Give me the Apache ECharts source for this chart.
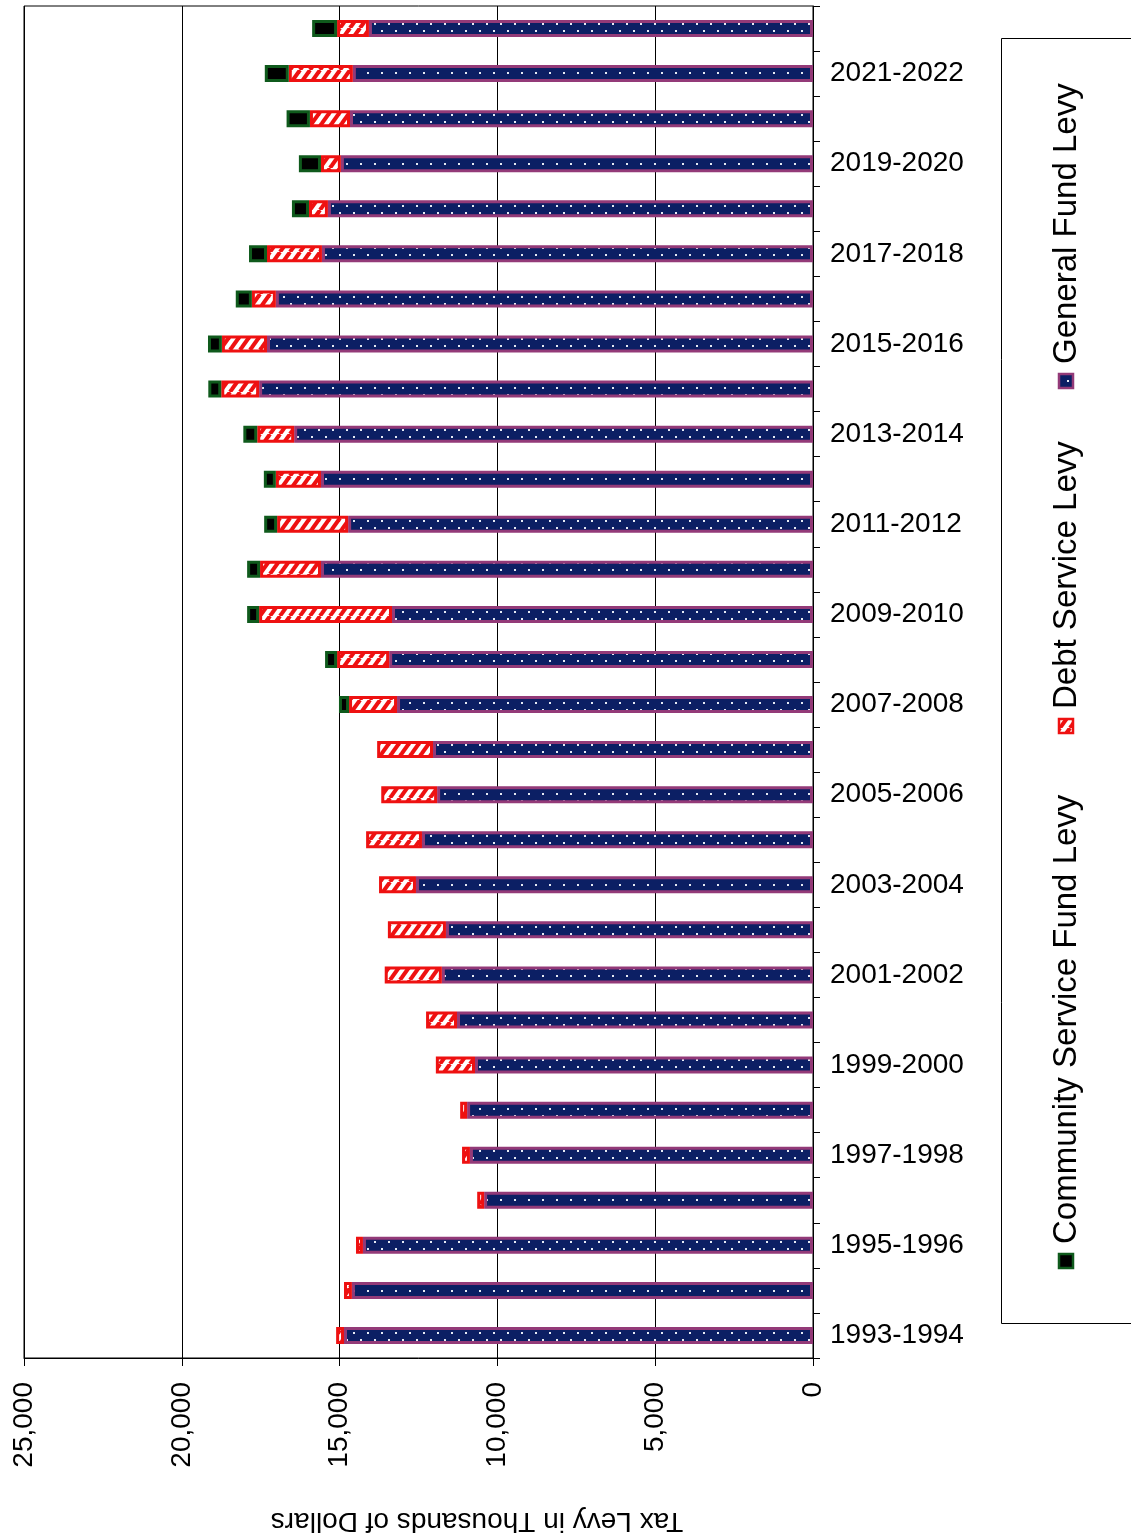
<!DOCTYPE html>
<html>
<head>
<meta charset="utf-8">
<script src="https://cdn.jsdelivr.net/npm/echarts@6/dist/echarts.min.js"></script>
<style>
  html, body { margin: 0; padding: 0; background: #fff; }
  #chart { width: 1131px; height: 1539px; }
</style>
</head>
<body>
<div id="chart"></div>
<script>
// Fiscal years, oldest first (drawn bottom to top)
const years = [
  '1993-1994', '1994-1995', '1995-1996', '1996-1997', '1997-1998', '1998-1999',
  '1999-2000', '2000-2001', '2001-2002', '2002-2003', '2003-2004', '2004-2005',
  '2005-2006', '2006-2007', '2007-2008', '2008-2009', '2009-2010', '2010-2011',
  '2011-2012', '2012-2013', '2013-2014', '2014-2015', '2015-2016', '2016-2017',
  '2017-2018', '2018-2019', '2019-2020', '2020-2021', '2021-2022', '2022-2023'
];

// Levy amounts, thousands of dollars
const generalFund = [
  14860, 14610, 14260, 10420, 10870, 10960,
  10710, 11280, 11760, 11630, 12580, 12390,
  11910, 12040, 13180, 13430, 13340, 15590,
  14730, 15590, 16440, 17550, 17300, 17020,
  15560, 15370, 14960, 14670, 14580, 14070
];
const debtService = [
  250, 250, 220, 220, 250, 220,
  1240, 980, 1810, 1840, 1170, 1770,
  1770, 1770, 1520, 1650, 4210, 1930,
  2250, 1430, 1170, 1200, 1430, 760,
  1740, 600, 630, 1270, 2030, 1010
];
// Community service levy begins in 2007-2008
const communityService = [
  null, null, null, null, null, null,
  null, null, null, null, null, null,
  null, null, 320, 380, 380, 410,
  410, 380, 440, 410, 440, 510,
  570, 540, 700, 740, 760, 790
];

const seriesNames = ['General Fund Levy', 'Debt Service Levy', 'Community Service Fund Levy'];
const axisMax = 25000;
const axisStep = 5000;

const FONT = '"Liberation Sans", Arial, sans-serif';
const NAVY = '#0c1f64';
const PURPLE = '#933a78';
const RED = '#ee1111';
const GREEN = '#0f5a1c';

// navy fill sprinkled with small white dots in staggered rows
function dotTile() {
  const c = document.createElement('canvas');
  c.width = 14; c.height = 14;
  const g = c.getContext('2d');
  g.fillStyle = NAVY;
  g.fillRect(0, 0, 14, 14);
  g.fillStyle = '#e6eaf4';
  g.fillRect(3, 2, 2, 2);
  g.fillRect(10, 9, 2, 2);
  return c;
}

// white fill with red forward-slash hatching
function stripeTile() {
  const w = 10, h = 14;
  const c = document.createElement('canvas');
  c.width = w; c.height = h;
  const g = c.getContext('2d');
  g.fillStyle = '#fff';
  g.fillRect(0, 0, w, h);
  g.strokeStyle = RED;
  g.lineWidth = 4;
  [-w, 0, w].forEach(function (k) {
    g.beginPath();
    g.moveTo(k, h);
    g.lineTo(k + w, 0);
    g.stroke();
  });
  return c;
}

const dotFill = { image: dotTile(), repeat: 'repeat' };
const stripeFill = { image: stripeTile(), repeat: 'repeat' };

const styles = [
  { color: dotFill, borderColor: PURPLE, borderWidth: 3 },
  { color: stripeFill, borderColor: RED, borderWidth: 3 },
  { color: '#000', borderColor: GREEN, borderWidth: 3 }
];
const values = [generalFund, debtService, communityService];

const series = seriesNames.map(function (name, i) {
  return {
    name: name,
    type: 'bar',
    stack: 'levy',
    barWidth: 17,
    data: values[i].map(function (v) { return v == null ? '-' : v; }),
    itemStyle: styles[i],
    emphasis: { disabled: true }
  };
});

// legend drawn as a rotated column inside a boxed panel
const legendItems = [
  { idx: 0, iconY: 381 },
  { idx: 1, iconY: 726 },
  { idx: 2, iconY: 1261 }
];
const legendGraphics = [{
  type: 'rect',
  shape: { x: 1001.5, y: 38.5, width: 200, height: 1285 },
  style: { fill: '#fff', stroke: '#000', lineWidth: 1 }
}];
legendItems.forEach(function (it) {
  const st = styles[it.idx];
  legendGraphics.push({
    type: 'rect',
    shape: { x: 1059, y: it.iconY - 7, width: 14, height: 14 },
    style: { fill: st.color, stroke: st.borderColor, lineWidth: 2.5 }
  });
  legendGraphics.push({
    type: 'text',
    x: 1067,
    y: it.iconY - 17,
    rotation: Math.PI / 2,
    style: {
      text: seriesNames[it.idx],
      fontSize: 33,
      fontFamily: FONT,
      fill: '#000',
      align: 'left',
      verticalAlign: 'middle',
      textAlign: 'left',
      textVerticalAlign: 'middle'
    }
  });
});

const chart = echarts.init(document.getElementById('chart'), null, { renderer: 'canvas' });
chart.setOption({
  animation: false,
  backgroundColor: '#fff',
  grid: {
    left: 24, right: 318, top: 6, bottom: 181,
    show: true, borderColor: '#000', borderWidth: 1, backgroundColor: 'transparent'
  },
  xAxis: {
    type: 'value',
    inverse: true,
    min: 0,
    max: axisMax,
    interval: axisStep,
    position: 'bottom',
    axisLine: { show: true, lineStyle: { color: '#000', width: 1 } },
    axisTick: { show: true, length: 8, lineStyle: { color: '#000', width: 1 } },
    axisLabel: {
      rotate: 90, margin: 24, fontSize: 28, fontFamily: FONT, color: '#000',
      showMinLabel: true, showMaxLabel: true,
      formatter: function (v) { return v.toLocaleString('en-US'); }
    },
    splitLine: { show: true, lineStyle: { color: '#000', width: 1 } }
  },
  yAxis: {
    type: 'category',
    position: 'right',
    data: years,
    axisLine: { show: true, lineStyle: { color: '#000', width: 1 } },
    axisTick: { show: true, interval: 0, length: 7, lineStyle: { color: '#000', width: 1 } },
    axisLabel: { interval: 1, fontSize: 28, margin: 17, fontFamily: FONT, color: '#000' },
    splitLine: { show: false }
  },
  series: series,
  graphic: [{
    type: 'text',
    x: 477,
    y: 1521,
    rotation: Math.PI,
    style: {
      text: 'Tax Levy in Thousands of Dollars',
      fontSize: 28,
      fontFamily: FONT,
      fill: '#000',
      align: 'center',
      verticalAlign: 'middle',
      textAlign: 'center',
      textVerticalAlign: 'middle'
    }
  }].concat(legendGraphics)
});
</script>
</body>
</html>
